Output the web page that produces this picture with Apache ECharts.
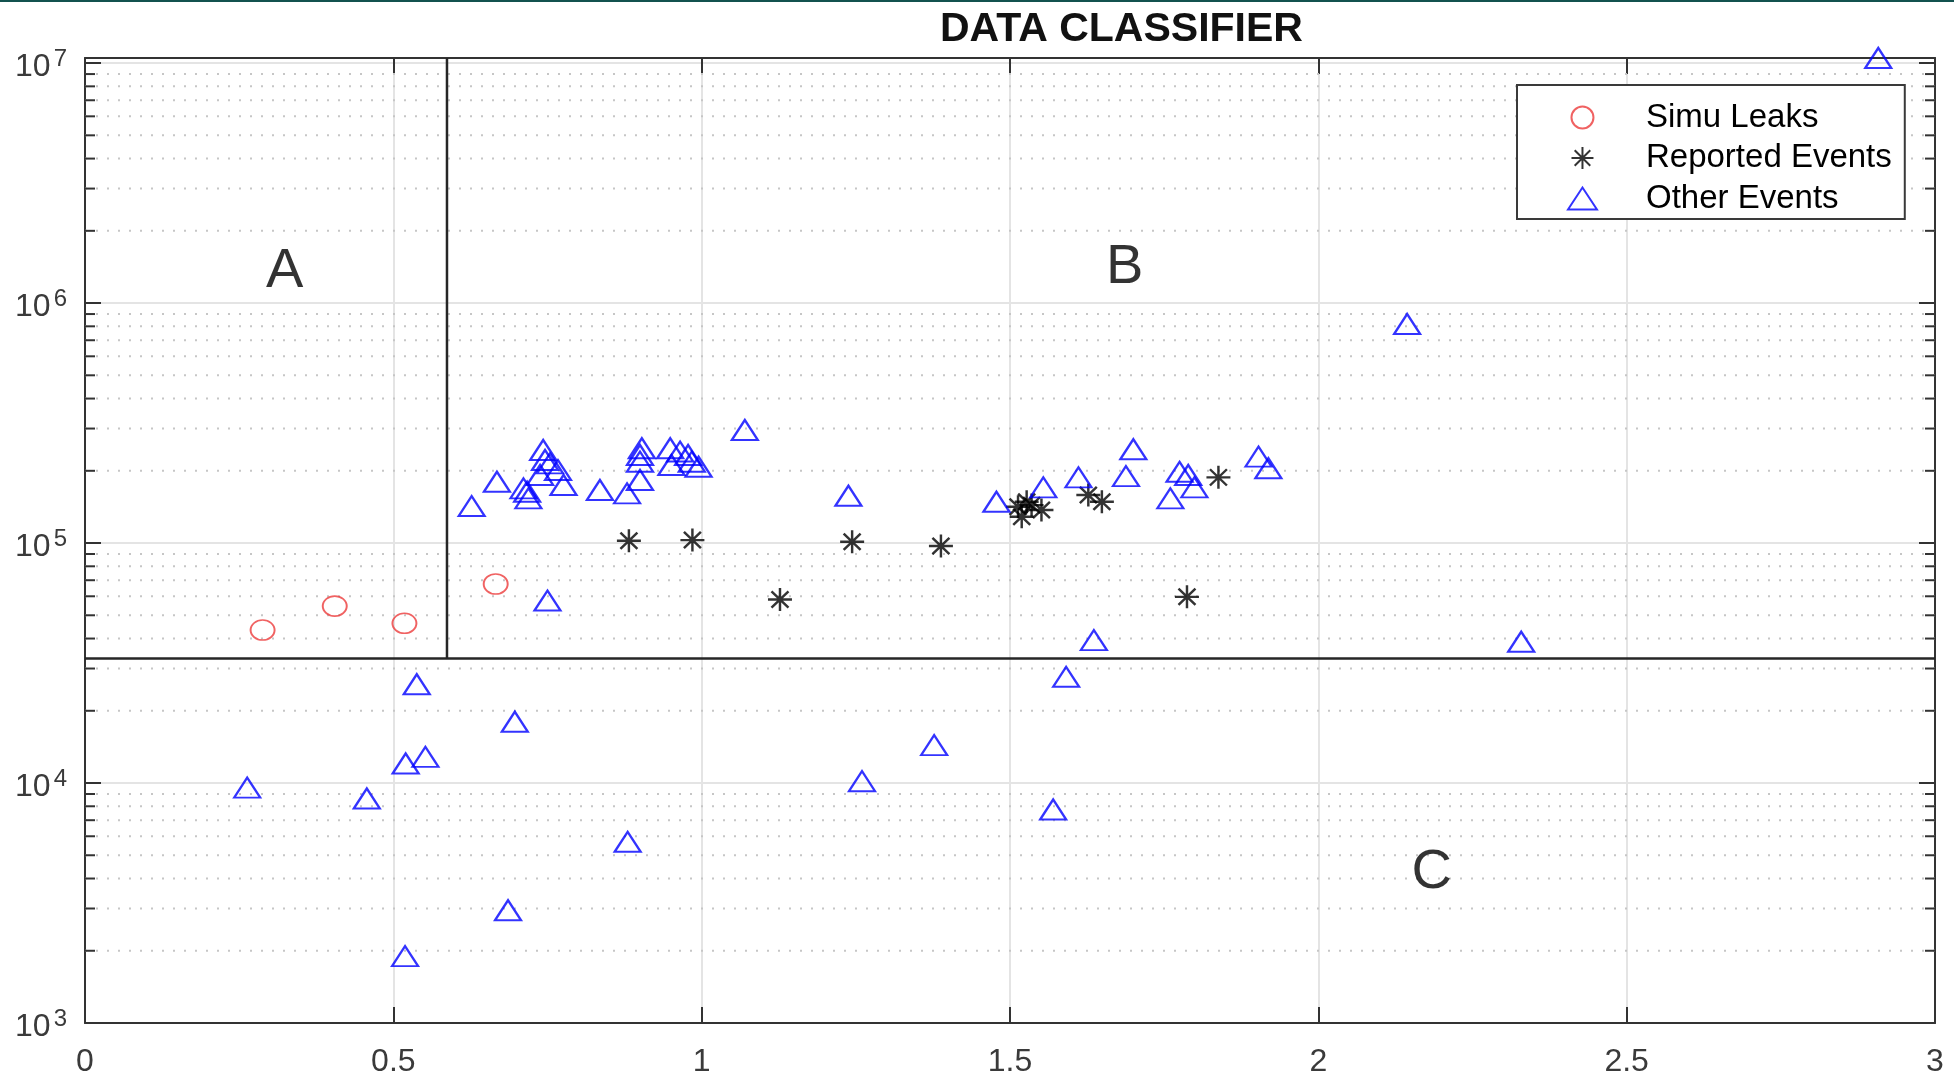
<!DOCTYPE html>
<html>
<head>
<meta charset="utf-8">
<script src="https://cdn.jsdelivr.net/npm/echarts/dist/echarts.min.js"></script>
<style>
  html, body { margin: 0; padding: 0; background: #ffffff; }
  #chart { width: 1954px; height: 1089px; }
</style>
</head>
<body>
<div id="chart"></div>
<script>
// Simulated leak cases: [x, value]
const simuLeaks = [
  [0.288, 43400], [0.405, 54600], [0.518, 46300], [0.666, 67500]
];

// Events confirmed by field reports
const reportedEvents = [
  [0.882, 102200], [0.985, 102900], [1.127, 58200], [1.244, 101200],
  [1.388, 97200], [1.513, 141600], [1.519, 128700], [1.527, 148600],
  [1.535, 143900], [1.551, 137300], [1.627, 158600], [1.649, 148600],
  [1.787, 59700], [1.838, 187800]
];

// Every other detected event
const otherEvents = [
  [0.263, 9570], [0.457, 8620], [0.519, 1900], [0.520, 12060],
  [0.538, 25800], [0.552, 12850], [0.686, 2950], [0.697, 18000],
  [0.880, 5690], [1.260, 10180], [1.377, 14390], [1.570, 7760],
  [1.591, 27700], [1.636, 39400], [2.329, 38800], [0.750, 57600],
  [0.627, 142600], [0.668, 180100], [0.711, 169000], [0.717, 163600],
  [0.719, 153500], [0.738, 192100], [0.743, 244300], [0.746, 221800],
  [0.754, 214800], [0.767, 201400], [0.776, 174600], [0.835, 166400],
  [0.879, 161100], [0.900, 183200], [0.900, 218300], [0.900, 232800],
  [0.903, 248400], [0.949, 248300], [0.951, 211500], [0.965, 240500],
  [0.978, 232800], [0.984, 218300], [0.995, 208000], [1.070, 295800],
  [1.238, 157400], [1.478, 148600], [1.554, 170600], [1.611, 187800],
  [1.688, 190100], [1.700, 245900], [1.760, 153500], [1.775, 198100],
  [1.789, 192100], [1.799, 170600], [1.903, 229100], [1.919, 204900],
  [2.144, 818000], [2.908, 10500000]
];

// Region letters placed in data space: [x, value, text]
const regionLabels = [
  [0.324, 1.35e6, 'A'],
  [1.686, 1.40e6, 'B'],
  [2.184, 4.25e3, 'C']
];

// Classifier thresholds
const thresholdX = 0.587;
const thresholdY = 33000;

// Axis ranges
const xRange = [0, 3];
const xStep = 0.5;
const yRange = [1e3, 1.05e7];

const seriesNames = ['Simu Leaks', 'Reported Events', 'Other Events'];

// Minor decade ticks: 2..9 x 10^d
const minorTickValues = [];
for (let d = 3; d < 7; d++) {
  for (let m = 2; m <= 9; m++) minorTickValues.push(m * Math.pow(10, d));
}

const FONT = 'Liberation Sans, Arial, sans-serif';
const AXIS_COLOR = '#333333';
const LABEL_COLOR = '#3a3a3a';

const ASTERISK = 'path://M0,-10L0,10M-10,0L10,0M-7.07,-7.07L7.07,7.07M-7.07,7.07L7.07,-7.07';
const RING = 'path://M0,-10A10,10 0 1,1 0,10A10,10 0 1,1 0,-10Z';
const TRIANGLE = 'path://M0,19L12.5,0L25,19Z';

function powerLabel(v) {
  const e = Math.log10(v);
  const r = Math.round(e);
  if (Math.abs(e - r) > 1e-6) return '';
  return '{b|10}{s|' + r + '}';
}

const chart = echarts.init(document.getElementById('chart'), null, { renderer: 'canvas' });

const tickStyle = { color: AXIS_COLOR, width: 2 };

chart.setOption({
  animation: false,
  backgroundColor: '#ffffff',
  graphic: [
    {
      // thin frame rule along the top edge of the figure
      type: 'rect',
      left: 0,
      top: 0,
      shape: { width: 1954, height: 2 },
      style: { fill: '#13524f' },
      silent: true
    }
  ],
  title: {
    text: 'DATA CLASSIFIER',
    left: 935,
    top: 4,
    textStyle: { fontFamily: FONT, fontSize: 41, fontWeight: 'bold', color: '#111111' }
  },
  legend: {
    data: seriesNames,
    orient: 'vertical',
    left: 1517,
    top: 85,
    padding: [16, 13, 4, 50],
    itemGap: 7.5,
    itemWidth: 117,
    itemHeight: 22,
    backgroundColor: '#ffffff',
    borderColor: '#3a3a3a',
    borderWidth: 2,
    selectedMode: false,
    textStyle: { fontFamily: FONT, fontSize: 33, color: '#000000' }
  },
  grid: {
    left: 85,
    right: 19,
    top: 58,
    bottom: 66,
    containLabel: false,
    outerBoundsMode: 'none'
  },
  xAxis: [
    {
      type: 'value',
      min: xRange[0],
      max: xRange[1],
      interval: xStep,
      position: 'bottom',
      axisLine: { show: true, onZero: false, lineStyle: tickStyle },
      axisTick: { show: true, inside: true, length: 16, lineStyle: tickStyle },
      splitLine: { show: true, lineStyle: { color: '#e4e4e4', width: 2 } },
      axisLabel: { margin: 23, fontFamily: FONT, fontSize: 32, color: LABEL_COLOR }
    },
    {
      type: 'value',
      min: xRange[0],
      max: xRange[1],
      interval: xStep,
      position: 'top',
      axisLine: { show: true, onZero: false, lineStyle: tickStyle },
      axisTick: { show: true, inside: true, length: 16, lineStyle: tickStyle },
      splitLine: { show: false },
      axisLabel: { show: false }
    }
  ],
  yAxis: [
    {
      type: 'log',
      logBase: 10,
      min: yRange[0],
      max: yRange[1],
      position: 'left',
      axisLine: { show: true, onZero: false, lineStyle: tickStyle },
      axisTick: { show: true, inside: true, length: 16, lineStyle: tickStyle },
      splitLine: { show: true, lineStyle: { color: '#e4e4e4', width: 2 } },
      axisLabel: {
        margin: 18,
        formatter: powerLabel,
        rich: {
          b: { fontFamily: FONT, fontSize: 32, lineHeight: 32, color: LABEL_COLOR, padding: [8, 0, 0, 0] },
          s: { fontFamily: FONT, fontSize: 24, lineHeight: 28, color: LABEL_COLOR, verticalAlign: 'top', padding: [0, 0, 0, 3] }
        }
      }
    },
    {
      type: 'log',
      logBase: 10,
      min: yRange[0],
      max: yRange[1],
      position: 'right',
      axisLine: { show: true, onZero: false, lineStyle: tickStyle },
      axisTick: { show: true, inside: true, length: 16, lineStyle: tickStyle },
      splitLine: { show: false },
      axisLabel: { show: false }
    }
  ],
  series: [
    {
      // dotted minor grid lines with short inward ticks on both vertical edges
      type: 'custom',
      silent: true,
      z: 1,
      xAxisIndex: 0,
      yAxisIndex: 0,
      data: minorTickValues.map(v => [xRange[0], v]),
      encode: { x: 0, y: 1 },
      renderItem: function (params, api) {
        const v = api.value(1);
        const p0 = api.coord([xRange[0], v]);
        const p1 = api.coord([xRange[1], v]);
        return {
          type: 'group',
          children: [
            { type: 'line', shape: { x1: p0[0], y1: p0[1], x2: p1[0], y2: p1[1] },
              style: { stroke: '#c6c6c6', lineWidth: 2, lineDash: [2, 9] } },
            { type: 'line', shape: { x1: p0[0], y1: p0[1], x2: p0[0] + 10, y2: p0[1] },
              style: { stroke: AXIS_COLOR, lineWidth: 2 } },
            { type: 'line', shape: { x1: p1[0] - 10, y1: p1[1], x2: p1[0], y2: p1[1] },
              style: { stroke: AXIS_COLOR, lineWidth: 2 } }
          ]
        };
      }
    },
    {
      type: 'line',
      silent: true,
      z: 3,
      symbol: 'none',
      data: [[thresholdX, yRange[1]], [thresholdX, thresholdY]],
      lineStyle: { color: '#262626', width: 2.5 }
    },
    {
      type: 'line',
      silent: true,
      z: 3,
      symbol: 'none',
      data: [[xRange[0], thresholdY], [xRange[1], thresholdY]],
      lineStyle: { color: '#262626', width: 2.5 }
    },
    {
      name: seriesNames[0],
      type: 'scatter',
      z: 4,
      clip: false,
      symbol: RING,
      symbolSize: [24, 20],
      itemStyle: { color: 'rgba(0,0,0,0)', borderColor: '#ec3b3b', borderWidth: 1.8 },
      data: simuLeaks
    },
    {
      name: seriesNames[1],
      type: 'scatter',
      z: 4,
      clip: false,
      symbol: ASTERISK,
      symbolSize: [24, 23],
      itemStyle: { color: 'rgba(0,0,0,0)', borderColor: '#000000', borderWidth: 2.4 },
      data: reportedEvents
    },
    {
      name: seriesNames[2],
      type: 'scatter',
      z: 4,
      clip: false,
      symbol: TRIANGLE,
      symbolSize: [26, 20],
      itemStyle: { color: 'rgba(0,0,0,0)', borderColor: '#0000ff', borderWidth: 2.2 },
      data: otherEvents
    },
    {
      type: 'scatter',
      silent: true,
      z: 5,
      clip: false,
      symbolSize: 1,
      itemStyle: { color: 'rgba(0,0,0,0)' },
      data: regionLabels.map(r => ({ value: [r[0], r[1]], name: r[2] })),
      label: {
        show: true,
        position: 'inside',
        formatter: '{b}',
        fontFamily: FONT,
        fontSize: 56,
        color: '#000000'
      }
    }
  ]
});
</script>
</body>
</html>
